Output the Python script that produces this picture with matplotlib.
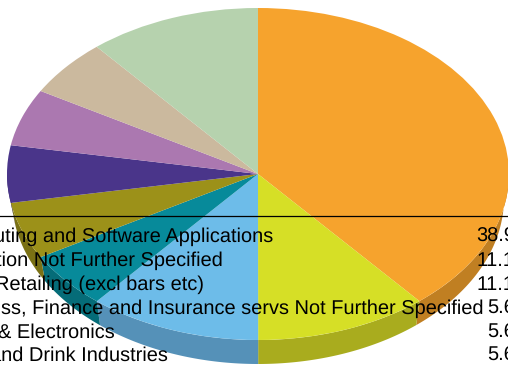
import matplotlib
matplotlib.use("Agg")
import matplotlib.pyplot as plt
import numpy as np

# slices run clockwise from 12 o'clock
values = [38.89, 11.11, 11.11, 5.56, 5.56, 5.56, 5.56, 5.56, 11.11]
top_colors = ["#f6a32d", "#d6df26", "#6dbce9", "#078a9a", "#9c9119",
              "#4a358a", "#ab78b0", "#cbb99e", "#b6d2ae"]
side_colors = ["#c07f22", "#a9ac1e", "#5591b8", "#056c78", "#7a7114",
               "#3a2a6c", "#865e8a", "#9f917c", "#8ea488"]

# table under the line, cut off by the left and right edges of the image
row_labels = [
    "uting and Software Applications",
    "tion Not Further Specified",
    "Retailing (excl bars etc)",
    "ss, Finance and Insurance servs Not Further Specified",
    "& Electronics",
    "and Drink Industries",
]
row_values = ["38.9", "11.1", "11.1", "5.6", "5.6", "5.6"]

W, H = 508, 366
CX, CY = 258, 174
RX, RY = 251, 166
DEPTH = 24 / RY
# the lower rim of the wall is a little narrower than the top
RIM = 246 / RX

plt.rcParams["font.family"] = ["Liberation Sans", "DejaVu Sans"]
plt.rcParams["text.hinting"] = "no_hinting"
plt.rcParams["text.hinting_factor"] = 1

fig = plt.figure(figsize=(W / 100, H / 100), dpi=100)
ax = fig.add_axes([0, 0, 1, 1])

# side wall first, so the top of the pie sits over it
edges = np.cumsum([0] + values) / sum(values) * 2 * np.pi
for start, stop, color in zip(edges[:-1], edges[1:], side_colors):
    t = np.linspace(start, stop, 120)
    t = t[np.cos(t) <= 0.02]
    if len(t) < 2:
        continue
    xs = np.concatenate([np.sin(t), RIM * np.sin(t[::-1])])
    ys = np.concatenate([np.cos(t), np.cos(t[::-1]) - DEPTH])
    ax.fill(xs, ys, color=color, lw=0, zorder=1)

wedges, _ = ax.pie(values, colors=top_colors, startangle=90, counterclock=False,
                   radius=1, wedgeprops={"linewidth": 0})
for w in wedges:
    w.set_zorder(2)

# squash the round pie into the tilted ellipse
ax.set_aspect("auto")
ax.set_xlim(-CX / RX, (W - CX) / RX)
ax.set_ylim((CY - H) / RY, CY / RY)
ax.axis("off")

fig.add_artist(plt.Line2D([0, 1], [1 - 216 / H] * 2, color="black", lw=0.9))

label_right = [273, 223, 204, 484, 115, 168]
value_left = [476, 476, 476, 487, 487, 487]
row_base = [242, 266, 290, 314, 337.5, 361]
for label, value, xr, xl, y in zip(row_labels, row_values, label_right, value_left, row_base):
    fig.text(xr / W, 1 - y / H, label, ha="right", va="baseline", fontsize=14.4,
             color="black", zorder=5)
    fig.text(xl / W, 1 - y / H, value, ha="left", va="baseline", fontsize=14.4,
             color="black", zorder=5)

fig.savefig("out.png", dpi=100)
plt.close()
